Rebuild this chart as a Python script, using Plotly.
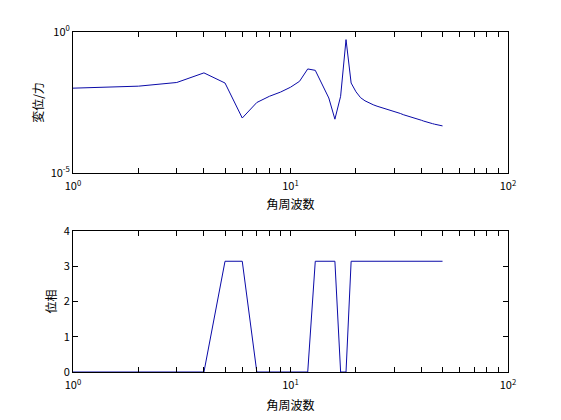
import plotly.graph_objects as go
from plotly.subplots import make_subplots

# angular frequency samples
omega = list(range(1, 51))

# displacement / force magnitude
magnitude = [
    0.0102, 0.0120, 0.0162, 0.0355, 0.0155, 0.00089, 0.00316, 0.00525, 0.00741, 0.0110,
    0.0178, 0.0490, 0.0437, 0.0126, 0.00457, 0.00081, 0.00525, 0.537, 0.0155, 0.00759,
    0.00468, 0.00363, 0.00302, 0.00263, 0.00234, 0.00214, 0.00195, 0.00178, 0.00162, 0.00151,
    0.00138, 0.00129, 0.00117, 0.00110, 0.00102, 0.000955, 0.000891, 0.000851, 0.000794, 0.000741,
    0.000692, 0.000646, 0.000617, 0.000589, 0.000562, 0.000537, 0.000513, 0.000501, 0.000479, 0.000468,
]

PI = 3.14159
phase = [
    0, 0, 0, 0, PI, PI, 0, 0, 0, 0,
    0, 0, PI, PI, PI, PI, 0, 0, PI, PI,
    PI, PI, PI, PI, PI, PI, PI, PI, PI, PI,
    PI, PI, PI, PI, PI, PI, PI, PI, PI, PI,
    PI, PI, PI, PI, PI, PI, PI, PI, PI, PI,
]

x_tickvals = [1, 10, 100]
x_ticktext = ["10<sup>0</sup>", "10<sup>1</sup>", "10<sup>2</sup>"]
x_minorvals = [2, 3, 4, 5, 6, 7, 8, 9, 20, 30, 40, 50, 60, 70, 80, 90]
mag_tickvals = [1e-5, 1]
mag_ticktext = ["10<sup>-5</sup>", "10<sup>0</sup>"]
phase_tickvals = [0, 1, 2, 3, 4]
phase_ticktext = ["0", "1", "2", "3", "4"]

xlabel = "角周波数"
ylabel_mag = "変位/力"
ylabel_phase = "位相"

fig = make_subplots(rows=2, cols=1, vertical_spacing=0.1706)

line_style = dict(color="#0a0aa8", width=1)
fig.add_trace(go.Scatter(x=omega, y=magnitude, mode="lines", line=line_style,
                         showlegend=False, hoverinfo="skip"), row=1, col=1)
fig.add_trace(go.Scatter(x=omega, y=phase, mode="lines", line=line_style,
                         showlegend=False, hoverinfo="skip"), row=2, col=1)

font_cjk = "Noto Sans CJK JP, DejaVu Sans, sans-serif"
axis_common = dict(
    showline=True, linecolor="black", linewidth=1, mirror="ticks",
    ticks="inside", ticklen=5, tickcolor="black", tickwidth=1,
    showgrid=False, zeroline=False, automargin=False,
    tickfont=dict(family=font_cjk, size=11, color="black"),
)

for r in (1, 2):
    fig.update_xaxes(type="log", range=[0, 2], tickmode="array",
                     tickvals=x_tickvals, ticktext=x_ticktext, ticklabelstandoff=3,
                     minor=dict(tickmode="array", tickvals=x_minorvals, ticks="inside",
                                ticklen=5, tickcolor="black", tickwidth=1, showgrid=False),
                     title=dict(text=xlabel, font=dict(family=font_cjk, size=12, color="black"),
                                standoff=8 if r == 1 else 10),
                     row=r, col=1, **axis_common)

fig.update_yaxes(type="log", range=[-5, 0], tickmode="array",
                 tickvals=mag_tickvals, ticktext=mag_ticktext,
                 title=dict(text=ylabel_mag, font=dict(family=font_cjk, size=12, color="black"), standoff=4),
                 row=1, col=1, **axis_common)
fig.update_yaxes(range=[0, 4], tickmode="array",
                 tickvals=phase_tickvals, ticktext=phase_ticktext,
                 title=dict(text=ylabel_phase, font=dict(family=font_cjk, size=12, color="black"), standoff=4),
                 row=2, col=1, **axis_common)

# page body has an 8px margin, so the figure is sized to fit the 561x420 window
fig.update_layout(
    width=553, height=412,
    margin=dict(l=65, r=53, t=24, b=48),
    paper_bgcolor="white", plot_bgcolor="white",
    font=dict(family=font_cjk, color="black"),
)
fig.update_layout(yaxis=dict(domain=[0.5853, 1.0]), yaxis2=dict(domain=[0.0, 0.4147]))

fig.write_html("out.html")
